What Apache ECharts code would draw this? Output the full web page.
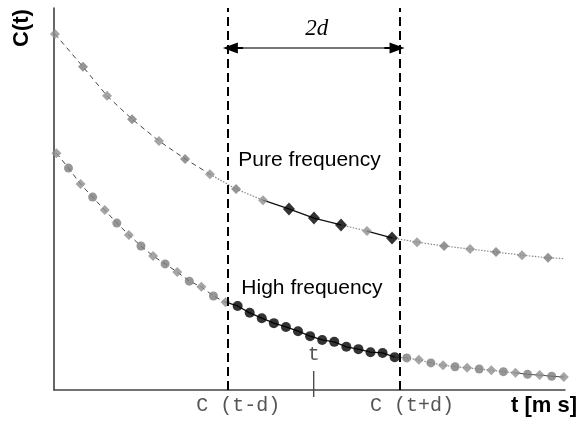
<!DOCTYPE html>
<html>
<head>
<meta charset="utf-8">
<script src="https://cdn.jsdelivr.net/npm/echarts@6/dist/echarts.min.js"></script>
<style>
  html, body { margin: 0; padding: 0; background: #fff; }
  #main { width: 579px; height: 428px; }
</style>
</head>
<body>
<div id="main"></div>
<script>
// time axis in sample steps of the high-frequency signal
const highT = [0, 1, 2, 3, 4, 5, 6, 7, 8, 9, 10, 11, 12, 13, 14, 15, 16, 17, 18, 19, 20,
    21, 22, 23, 24, 25, 26, 27, 28, 29, 30, 31, 32, 33, 34, 35, 36, 37, 38, 39, 40, 41, 42];
const highC = [62.0, 58.1, 53.9, 50.5, 47.1, 43.7, 40.6, 37.7, 35.1, 33.0, 30.9, 28.5, 27.0,
    24.6, 23.0, 22.0, 20.2, 18.8, 17.5, 16.5, 15.4, 14.1, 13.1, 12.6, 11.3, 10.7, 9.9, 9.7,
    8.6, 8.4, 7.9, 7.1, 6.5, 6.1, 5.8, 5.5, 5.2, 4.8, 4.5, 4.1, 3.9, 3.6, 3.4];
const pureT = [-0.12, 2.2, 4.19, 6.26, 8.49, 10.65, 12.71, 14.87, 17.1, 19.25, 21.32, 23.56,
    25.71, 27.78, 29.85, 32.09, 34.24, 36.39, 38.54, 40.7];
const pureC = [93.2, 84.6, 77.0, 70.9, 65.2, 60.5, 56.5, 52.6, 49.7, 47.4, 45.0, 43.2, 41.6,
    39.8, 38.7, 37.7, 36.9, 36.1, 35.3, 34.6];
const pureTail = [42.0, 34.4];
// which samples are drawn in black (inside the window)
const pureInWindow = [9, 10, 11, 13];
const highWindow = [15, 28];

const windowLeft = 14.15;
const windowRight = 28.45;
const centerT = 21.3;
const arrowC = 89.5;

const GRAY_MARK_A = '#8e8e8e';
const GRAY_MARK_B = '#7c7c7c';

const purePts = pureT.map((t, i) => [t, pureC[i]]);
const highPts = highT.map((t, i) => [t, highC[i]]);

function seg(points, from, to, style, extra) {
    let data = points.slice(from, to + 1);
    if (extra) data = data.concat([extra]);
    return {
        type: 'line',
        data: data,
        showSymbol: false,
        symbol: 'none',
        silent: true,
        z: 2,
        lineStyle: style,
    };
}

const dashed = { color: '#444', width: 1, type: [5, 4] };
const dotted = { color: '#8a8a8a', width: 1.2, type: [1.5, 1.5] };
const solid = { color: '#111', width: 1.3, type: 'solid' };

function pureMarks() {
    return purePts.map((p, i) => {
        const black = pureInWindow.includes(i);
        return {
            value: p,
            symbol: 'diamond',
            symbolSize: black ? [12, 13] : [10, 10],
            itemStyle: { color: black ? '#000' : (i % 2 ? GRAY_MARK_B : GRAY_MARK_A) },
        };
    });
}

function highMarks() {
    return highPts.map((p, i) => {
        const black = i >= highWindow[0] && i <= highWindow[1];
        if (black) {
            return { value: p, symbol: 'circle', symbolSize: 10, itemStyle: { color: '#000' } };
        }
        const dia = i % 2 === 0;
        return {
            value: p,
            symbol: dia ? 'diamond' : 'circle',
            symbolSize: dia ? [10, 10] : 9,
            itemStyle: { color: dia ? GRAY_MARK_A : GRAY_MARK_B },
        };
    });
}

const option = {
    animation: false,
    backgroundColor: '#fff',
    grid: { left: 54, right: 14, top: 8, bottom: 38 },
    xAxis: {
        type: 'value',
        min: -0.2,
        max: 42.1,
        axisLine: { onZero: false, lineStyle: { color: '#444', width: 1.5 } },
        axisTick: { show: false },
        axisLabel: { show: false },
        splitLine: { show: false },
    },
    yAxis: {
        type: 'value',
        min: 0,
        max: 100,
        axisLine: { show: true, onZero: false, lineStyle: { color: '#333', width: 1.5 } },
        axisTick: { show: false },
        axisLabel: { show: false },
        splitLine: { show: false },
    },
    series: [
        seg(purePts, 0, 6, dashed),
        seg(purePts, 6, 8, dotted),
        seg(purePts, 8, 11, solid),
        seg(purePts, 11, 12, dotted),
        seg(purePts, 12, 13, solid),
        seg(purePts, 13, 19, dotted, pureTail),
        seg(highPts, 0, 14, dashed),
        seg(highPts, 14, 28, solid),
        seg(highPts, 28, 38, dotted),
        seg(highPts, 38, 42, { color: '#444', width: 1, type: 'solid' }),
        {
            type: 'scatter',
            data: pureMarks(),
            silent: true,
            z: 4,
        },
        {
            type: 'scatter',
            data: highMarks(),
            silent: true,
            z: 4,
            markLine: {
                silent: true,
                symbol: 'none',
                label: { show: false },
                lineStyle: { color: '#000', width: 2, type: [9, 5] },
                data: [{ xAxis: windowLeft }, { xAxis: windowRight }],
            },
        },
        {
            type: 'line',
            data: [],
            z: 5,
            markLine: {
                silent: true,
                symbol: ['triangle', 'triangle'],
                symbolSize: [11, 15],
                label: { show: false },
                lineStyle: { color: '#000', width: 2, type: 'solid' },
                data: [[{ coord: [windowLeft + 0.25, arrowC] }, { coord: [windowRight - 0.25, arrowC] }]],
            },
        },
        {
            type: 'line',
            data: [],
            z: 6,
            markLine: {
                silent: true,
                symbol: 'none',
                label: { show: false },
                lineStyle: { color: '#777', width: 2, type: 'solid' },
                data: [[{ coord: [windowLeft + 1.3, arrowC] }, { coord: [windowRight - 1.3, arrowC] }]],
            },
        },
    ],
};

const chart = echarts.init(document.getElementById('main'));
chart.setOption(option);

const px = (t, c) => chart.convertToPixel({ gridIndex: 0 }, [t, c]);
const axisY = px(0, 0)[1];
const tickX = px(centerT, 0)[0];
const leftX = px(windowLeft, 0)[0];
const rightX = px(windowRight, 0)[0];

const sans = '"Liberation Sans", Arial, sans-serif';
const mono = '"Liberation Mono", "Courier New", monospace';

function txt(x, y, text, font, fill, align, rotation) {
    return {
        type: 'text',
        x: x,
        y: y,
        rotation: rotation || 0,
        silent: true,
        style: {
            text: text,
            font: font,
            fill: fill || '#000',
            align: align || 'center',
            verticalAlign: 'middle',
        },
    };
}

chart.setOption({
    graphic: [
        txt(22, 28, 'C(t)', 'bold 22px ' + sans, '#000', 'center', Math.PI / 2),
        txt(577, axisY + 16, 't [m s]', 'bold 22px ' + sans, '#000', 'right'),
        txt(leftX + 11, axisY + 16, 'C (t-d)', '20px ' + mono, '#555'),
        txt(rightX + 12, axisY + 16, 'C (t+d)', '20px ' + mono, '#555'),
        txt(tickX, axisY - 35, 't', '20px ' + mono, '#555'),
        txt((leftX + rightX) / 2 + 3, 29, '2d', 'italic 23px "Liberation Serif", "Times New Roman", serif', '#000'),
        txt(leftX + 11, 160, 'Pure frequency', '21px ' + sans, '#000', 'left'),
        txt(leftX + 14, 288, 'High frequency', '21px ' + sans, '#000', 'left'),
        {
            type: 'line',
            silent: true,
            shape: { x1: tickX, y1: axisY - 19, x2: tickX, y2: axisY + 7 },
            style: { stroke: '#333', lineWidth: 1.2 },
        },
    ],
});
</script>
</body>
</html>
